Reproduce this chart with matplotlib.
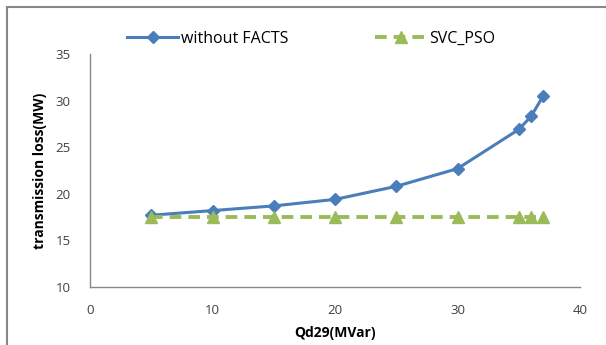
import matplotlib.pyplot as plt
from matplotlib.patches import Rectangle

# Data
qd29 = [5, 10, 15, 20, 25, 30, 35, 36, 37]
loss_no_facts = [17.7, 18.2, 18.7, 19.4, 20.8, 22.7, 26.9, 28.3, 30.5]
loss_svc_pso = [17.5, 17.5, 17.5, 17.5, 17.5, 17.5, 17.5, 17.5, 17.5]
xticks = [0, 10, 20, 30, 40]
yticks = [10, 15, 20, 25, 30, 35]

plt.rcParams['font.family'] = ['Open Sans', 'DejaVu Sans']

fig = plt.figure(figsize=(6.06, 3.45), dpi=100)
ax = fig.add_axes([90 / 606, 1 - 287 / 345, 490 / 606, 233 / 345])

blue = '#4A7EBB'
green = '#9BBB59'

ax.plot(qd29, loss_no_facts, color=blue, linewidth=2.2, marker='D',
        markersize=6, label='without FACTS')
ax.plot(qd29, loss_svc_pso, color=green, linewidth=2.8, linestyle=(0, (3, 1.8)),
        marker='^', markersize=9, label='SVC_PSO')

ax.set_xlim(0, 40)
ax.set_ylim(10, 35)
ax.set_xticks(xticks)
ax.set_yticks(yticks)
ax.tick_params(axis='both', length=0, labelsize=9.5, colors='#404040', pad=12)
ax.tick_params(axis='y', pad=14)

ax.set_xlabel('Qd29(MVar)', fontsize=10, fontweight='bold', labelpad=7)
ax.set_ylabel('transmission loss(MW)', fontsize=10, fontweight='bold', labelpad=6)

for s in ['top', 'right']:
    ax.spines[s].set_visible(False)
for s in ['left', 'bottom']:
    ax.spines[s].set_color('#888888')
    ax.spines[s].set_linewidth(1)

leg = ax.legend(loc='lower left', bbox_to_anchor=(30 / 490, 1.0), ncol=2,
                frameon=False, fontsize=11.5, columnspacing=5.4, handlelength=3.2,
                handletextpad=0.2, borderaxespad=0.05)

# outer chart frame
fig.patches.append(Rectangle((7 / 606, -0.1), 1.2, 1 - 7 / 345 + 0.1,
                             transform=fig.transFigure, fill=False,
                             edgecolor='#888888', linewidth=1.5))

plt.savefig('out.png', dpi=100)
